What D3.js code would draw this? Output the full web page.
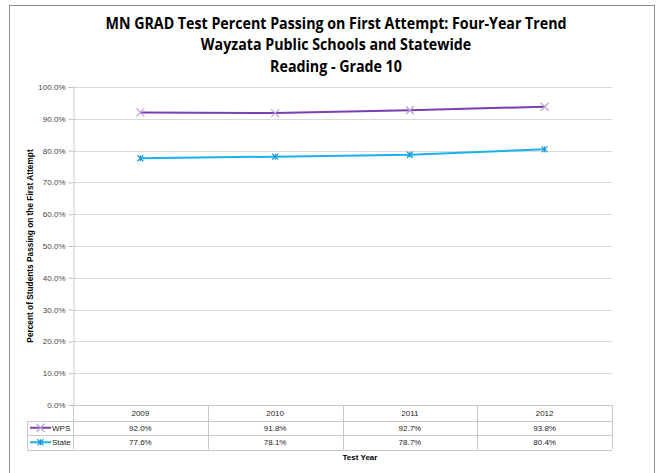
<!DOCTYPE html>
<html>
<head>
<meta charset="utf-8">
<script src="https://cdn.jsdelivr.net/npm/d3@7"></script>
<style>
  body { margin: 0; background: #fff; }
  svg { display: block; font-family: "Liberation Sans", Arial, sans-serif; }
  .title { font-family: "Open Sans", "Noto Sans", sans-serif; font-weight: bold; font-size: 16px; fill: #000; }
  .cell { font-size: 8px; fill: #222; }
</style>
</head>
<body>
<div id="chart"></div>
<script>
const YEARS = ['2009', '2010', '2011', '2012'];
const WPS = [92.0, 91.8, 92.7, 93.8];
const STATE = [77.6, 78.1, 78.7, 80.4];
const Y_TICKS = [0, 10, 20, 30, 40, 50, 60, 70, 80, 90, 100];
const TITLE_LINES = [
  'MN GRAD Test Percent Passing on First Attempt: Four-Year Trend',
  'Wayzata Public Schools and Statewide',
  'Reading - Grade 10',
];

const SERIES = [
  { name: 'WPS', values: WPS, color: '#7b3fb0', marker: 'x', markerColor: '#b9a2d4' },
  { name: 'State', values: STATE, color: '#1ab2ec', marker: 'star', markerColor: '#1a9ad6' },
];

const width = 658, height = 473;
const plot = { left: 73, right: 612, top: 87, bottom: 405 };

const svg = d3.select('#chart').append('svg')
  .attr('width', width)
  .attr('height', height);

// outer chart frame
svg.append('rect')
  .attr('x', 9.5).attr('y', 5.5)
  .attr('width', 645).attr('height', 475)
  .attr('fill', 'none').attr('stroke', '#8c8c8c').attr('stroke-width', 1);

// titles (narrowed to mimic a condensed face)
const titleG = svg.append('g')
  .attr('transform', 'translate(336,0) scale(0.89,1)');
titleG.selectAll('text.title')
  .data(TITLE_LINES)
  .enter().append('text')
  .attr('class', 'title')
  .attr('x', 0)
  .attr('y', (d, i) => 29 + i * 21.5)
  .attr('text-anchor', 'middle')
  .text(d => d);

const x = d3.scaleBand().domain(YEARS).range([plot.left, plot.right]);
const y = d3.scaleLinear().domain([0, 100]).range([plot.bottom, plot.top]);

// gridlines
svg.append('g').selectAll('line')
  .data(Y_TICKS.filter(t => t > 0))
  .enter().append('line')
  .attr('x1', plot.left).attr('x2', plot.right)
  .attr('y1', d => Math.round(y(d)) + 0.5).attr('y2', d => Math.round(y(d)) + 0.5)
  .attr('stroke', '#d9d9d9');

// y axis
const yAxis = svg.append('g')
  .attr('transform', `translate(${plot.left + 0.5},0)`)
  .call(d3.axisLeft(y).tickValues(Y_TICKS).tickSize(5).tickFormat(d => d.toFixed(1) + '%'));
yAxis.select('.domain').attr('stroke', '#d0d0d0');
yAxis.selectAll('.tick line').attr('stroke', '#bdbdbd');
yAxis.selectAll('.tick text')
  .attr('x', -8)
  .style('font-family', '"Liberation Sans", Arial, sans-serif')
  .style('font-size', '8px').style('fill', '#444');

// y axis title
svg.append('text')
  .attr('transform', `translate(33,${(plot.top + plot.bottom) / 2}) rotate(-90)`)
  .attr('text-anchor', 'middle')
  .style('font-size', '8.3px').style('font-weight', 'bold')
  .text('Percent of Students Passing  on the First Attempt');

// lines
const line = d3.line()
  .x((d, i) => x(YEARS[i]) + x.bandwidth() / 2)
  .y(d => y(d));

SERIES.forEach(s => {
  svg.append('path')
    .datum(s.values)
    .attr('d', line)
    .attr('fill', 'none')
    .attr('stroke', s.color)
    .attr('stroke-width', 2);

  const g = svg.append('g');
  s.values.forEach((v, i) => {
    const cx = x(YEARS[i]) + x.bandwidth() / 2, cy = y(v);
    drawMarker(g, s, cx, cy);
  });
});

function drawMarker(g, s, cx, cy) {
  const r = s.marker === 'x' ? 4 : 3;
  g.append('path')
    .attr('d', `M${cx - r},${cy - r}L${cx + r},${cy + r}M${cx - r},${cy + r}L${cx + r},${cy - r}`)
    .attr('stroke', s.markerColor).attr('stroke-width', 1.2);
  if (s.marker === 'star') {
    g.append('path')
      .attr('d', `M${cx},${cy - r}L${cx},${cy + r}`)
      .attr('stroke', s.markerColor).attr('stroke-width', 1.2);
  }
}

// data table
const rowH = 14.5;
const tableTop = plot.bottom;
const tableLeft = 27;
const rows = 3;
const tableBottom = tableTop + rowH * rows + 1;
const tg = svg.append('g');
const gridColor = '#c8c8c8';

// horizontal lines
tg.append('line')
  .attr('x1', plot.left).attr('x2', plot.right)
  .attr('y1', tableTop + 0.5).attr('y2', tableTop + 0.5)
  .attr('stroke', gridColor);
[1, 2, 3].forEach(r => {
  const yy = Math.round(tableTop + rowH * r + 1) + 0.5;
  tg.append('line')
    .attr('x1', tableLeft).attr('x2', plot.right)
    .attr('y1', yy).attr('y2', yy)
    .attr('stroke', gridColor);
});
// vertical lines
YEARS.concat(['end']).forEach((yr, i) => {
  const xx = Math.round(i < YEARS.length ? x(yr) : plot.right) + 0.5;
  tg.append('line')
    .attr('x1', xx).attr('x2', xx)
    .attr('y1', tableTop).attr('y2', tableBottom)
    .attr('stroke', gridColor);
});
tg.append('line')
  .attr('x1', tableLeft + 0.5).attr('x2', tableLeft + 0.5)
  .attr('y1', Math.round(tableTop + rowH + 1)).attr('y2', tableBottom)
  .attr('stroke', gridColor);

// header years
tg.selectAll('text.year')
  .data(YEARS)
  .enter().append('text')
  .attr('class', 'cell')
  .attr('x', d => x(d) + x.bandwidth() / 2)
  .attr('y', tableTop + rowH / 2 + 3.5)
  .attr('text-anchor', 'middle')
  .text(d => d);

SERIES.forEach((s, r) => {
  const cy = tableTop + rowH * (r + 1.5) + 1;
  tg.selectAll(null)
    .data(s.values)
    .enter().append('text')
    .attr('class', 'cell')
    .attr('x', (d, i) => x(YEARS[i]) + x.bandwidth() / 2)
    .attr('y', cy + 3)
    .attr('text-anchor', 'middle')
    .text(d => d.toFixed(1) + '%');

  // legend key
  tg.append('line')
    .attr('x1', tableLeft + 3).attr('x2', tableLeft + 24)
    .attr('y1', cy).attr('y2', cy)
    .attr('stroke', s.color).attr('stroke-width', 2);
  drawMarker(tg, s, tableLeft + 13.5, cy);
  tg.append('text')
    .attr('class', 'cell')
    .attr('x', tableLeft + 25)
    .attr('y', cy + 3)
    .text(s.name);
});

// x axis title
svg.append('text')
  .attr('x', 360)
  .attr('y', 460)
  .attr('text-anchor', 'middle')
  .style('font-size', '8px').style('font-weight', 'bold')
  .text('Test Year');
</script>
</body>
</html>
